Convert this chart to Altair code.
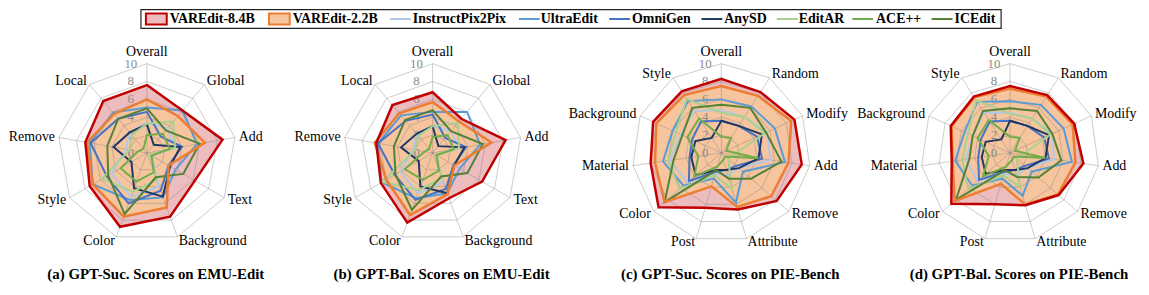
import altair as alt
import pandas as pd

# ---------------- data ----------------
MODELS = ["VAREdit-8.4B", "VAREdit-2.2B", "InstructPix2Pix", "UltraEdit", "OmniGen",
          "AnySD", "EditAR", "ACE++", "ICEdit"]
COLORS = ["#c00000", "#ed7d31", "#b4c7e7", "#5b9bd5", "#4472c4",
          "#203864", "#a9d18e", "#70ad47", "#548235"]
FILLS = {"VAREdit-8.4B": "#ecbcbf", "VAREdit-2.2B": "#f6c59e"}

AXES_EMU = ["Overall", "Global", "Add", "Text", "Background", "Color", "Style", "Remove", "Local"]
AXES_PIE = ["Overall", "Random", "Modify", "Add", "Remove", "Attribute", "Post", "Color",
            "Material", "Background", "Style"]

EMU_SUC = {
    "VAREdit-8.4B":    [7.6, 6.2, 8.6, 6.2, 7.6, 8.8, 7.4, 7.0, 7.6],
    "VAREdit-2.2B":    [6.0, 5.4, 6.6, 2.8, 6.5, 7.6, 7.0, 6.8, 5.7],
    "InstructPix2Pix": [3.4, 3.6, 3.2, 0.6, 4.0, 5.2, 4.6, 2.4, 3.0],
    "UltraEdit":       [5.1, 6.2, 5.7, 3.7, 5.3, 5.6, 7.0, 6.5, 5.9],
    "OmniGen":         [4.6, 2.4, 4.0, 2.8, 4.5, 6.0, 5.2, 6.4, 5.0],
    "AnySD":           [3.2, 1.2, 3.8, 3.0, 5.2, 4.2, 2.0, 3.8, 3.0],
    "EditAR":          [3.3, 4.6, 3.2, 0.4, 3.2, 4.6, 5.8, 2.0, 2.6],
    "ACE++":           [2.0, 2.8, 2.6, 0.6, 2.3, 3.4, 3.4, 1.0, 0.6],
    "ICEdit":          [5.0, 3.3, 6.0, 4.7, 2.9, 7.3, 5.0, 4.5, 5.0],
}
EMU_BAL = {
    "VAREdit-8.4B":    [6.8, 5.0, 8.3, 6.4, 5.4, 8.3, 6.7, 6.4, 7.0],
    "VAREdit-2.2B":    [5.7, 4.6, 6.7, 2.8, 4.9, 7.4, 6.0, 6.6, 5.8],
    "InstructPix2Pix": [3.0, 3.2, 3.0, 0.5, 3.5, 4.8, 4.2, 2.2, 2.8],
    "UltraEdit":       [4.6, 6.0, 5.4, 3.5, 4.8, 5.4, 6.6, 6.2, 5.5],
    "OmniGen":         [4.3, 2.2, 3.8, 2.7, 4.3, 5.6, 4.9, 6.2, 4.7],
    "AnySD":           [3.0, 1.0, 3.6, 2.8, 4.8, 4.0, 1.8, 3.6, 2.8],
    "EditAR":          [3.0, 4.4, 3.0, 0.4, 3.0, 4.4, 6.5, 2.0, 2.5],
    "ACE++":           [1.8, 2.6, 2.4, 0.5, 2.1, 3.2, 3.6, 0.9, 0.6],
    "ICEdit":          [4.8, 3.2, 5.7, 4.5, 2.8, 6.8, 4.8, 4.4, 4.8],
}
PIE_SUC = {
    "VAREdit-8.4B":    [8.3, 8.1, 9.0, 9.1, 8.2, 6.6, 6.4, 9.3, 8.0, 8.4, 8.2],
    "VAREdit-2.2B":    [7.5, 7.6, 8.6, 7.6, 7.4, 6.3, 3.9, 8.4, 7.5, 8.0, 7.7],
    "InstructPix2Pix": [4.8, 4.8, 5.6, 5.6, 2.6, 2.6, 2.4, 5.0, 5.8, 5.0, 5.6],
    "UltraEdit":       [6.0, 6.2, 6.6, 7.2, 3.2, 5.8, 3.0, 5.6, 6.6, 6.0, 6.9],
    "OmniGen":         [3.6, 3.6, 4.4, 4.6, 2.2, 2.0, 2.2, 4.8, 3.6, 3.6, 4.2],
    "AnySD":           [3.6, 3.6, 5.0, 4.2, 2.6, 2.0, 2.0, 3.8, 3.4, 3.2, 2.0],
    "EditAR":          [4.5, 4.8, 5.4, 1.4, 1.0, 4.2, 2.6, 6.2, 6.0, 5.6, 7.2],
    "ACE++":           [1.8, 2.0, 0.6, 4.2, 0.6, 0.8, 1.6, 4.0, 2.6, 4.2, 4.6],
    "ICEdit":          [5.4, 6.0, 5.5, 6.8, 4.4, 3.0, 2.0, 8.4, 5.4, 4.8, 6.0],
}
PIE_BAL = {
    "VAREdit-8.4B":    [7.5, 7.7, 7.9, 8.3, 7.2, 6.1, 6.0, 8.7, 6.6, 7.3, 7.5],
    "VAREdit-2.2B":    [7.2, 7.5, 7.7, 7.4, 7.1, 6.0, 3.6, 8.2, 6.5, 7.2, 7.4],
    "InstructPix2Pix": [4.5, 4.6, 5.2, 5.0, 2.6, 2.6, 2.4, 4.8, 5.0, 4.6, 5.4],
    "UltraEdit":       [5.8, 6.4, 6.6, 7.0, 3.2, 5.0, 3.0, 5.6, 6.2, 5.6, 6.8],
    "OmniGen":         [3.6, 3.6, 4.2, 4.4, 2.2, 2.0, 2.2, 4.6, 3.6, 3.6, 4.2],
    "AnySD":           [3.6, 3.6, 4.8, 4.0, 2.6, 2.0, 2.0, 3.6, 3.2, 3.0, 1.8],
    "EditAR":          [4.4, 4.6, 5.0, 1.4, 1.0, 4.0, 2.6, 6.2, 5.4, 5.2, 7.0],
    "ACE++":           [1.8, 2.0, 0.6, 4.0, 0.6, 0.8, 1.6, 4.0, 2.4, 4.0, 4.4],
    "ICEdit":          [5.0, 5.6, 5.2, 5.8, 4.2, 2.8, 2.0, 8.0, 4.6, 4.6, 5.6],
}
CAPTIONS = ["(a) GPT-Suc. Scores on EMU-Edit", "(b) GPT-Bal. Scores on EMU-Edit",
            "(c) GPT-Suc. Scores on PIE-Bench", "(d) GPT-Bal. Scores on PIE-Bench"]
TICKS = [0, 2, 4, 6, 8, 10]
RINGS = [2, 4, 6, 8, 10]

# ---------------- layout ----------------
PX = 9.0              # pixels per score unit
ROW_H = 259
CY = 125              # centre y inside a panel (px from top)
PANEL_W = [291, 291, 291, 268]
PANEL_CX = [139, 136, 136, 136]
LEG_W, LEG_H = 1141, 20
LEG_SYM_X = [138, 262, 384, 514, 605, 698, 774, 850, 930]
LEG_TXT_X = [162, 286, 407, 536, 628, 721, 796, 874, 953]
SERIF = "Liberation Serif"


def polar(r_expr="datum.v"):
    a = "2*PI*datum.i/datum.n"
    return {"px": f"({r_expr})*sin({a})", "py": f"({r_expr})*cos({a})", "s": f"sin({a})"}


def panel(axes, scores, caption, width, cx):
    n = len(axes)
    xs = alt.Scale(domain=[-cx / PX, (width - cx) / PX], nice=False, zero=False)
    ys = alt.Scale(domain=[-(ROW_H - CY) / PX, CY / PX], nice=False, zero=False)
    X = alt.X("px:Q", scale=xs, axis=None)
    Y = alt.Y("py:Q", scale=ys, axis=None)

    rows = [{"model": m, "i": i, "n": n, "v": v}
            for m in MODELS for i, v in enumerate(scores[m])]
    df = pd.DataFrame(rows)

    def series(m, **mk):
        return (alt.Chart(df).transform_filter(alt.datum.model == m)
                .transform_calculate(**polar())
                .mark_line(interpolate="linear-closed", **mk)
                .encode(x=X, y=Y, order="i:Q"))

    layers = []
    # filled areas
    for m in ["VAREdit-8.4B", "VAREdit-2.2B"]:
        layers.append(series(m, fill=FILLS[m], fillOpacity=1, strokeOpacity=0, strokeWidth=0))

    # grid rings
    ring_df = pd.DataFrame([{"ring": r, "i": i, "n": n, "v": r} for r in RINGS for i in range(n)])
    layers.append(alt.Chart(ring_df).transform_calculate(**polar())
                  .mark_line(interpolate="linear-closed", color="#7a7a7a", strokeOpacity=0.38, strokeWidth=1)
                  .encode(x=X, y=Y, detail="ring:N", order="i:Q"))
    # spokes
    spoke_df = pd.DataFrame([{"i": i, "n": n, "v": 10} for i in range(n)])
    layers.append(alt.Chart(spoke_df).transform_calculate(ox="0", oy="0", **polar())
                  .mark_rule(color="#7a7a7a", strokeOpacity=0.38, strokeWidth=1)
                  .encode(x=alt.X("ox:Q", scale=xs, axis=None), y=alt.Y("oy:Q", scale=ys, axis=None),
                          x2="px:Q", y2="py:Q"))
    # tick labels
    tick_df = pd.DataFrame({"v": TICKS, "t": [str(t) for t in TICKS]})
    layers.append(alt.Chart(tick_df).transform_calculate(px="-1.8", py="datum.v")
                  .mark_text(font=SERIF, fontSize=13, color="#8a8a8a", align="center", baseline="middle")
                  .encode(x=X, y=Y, text="t:N"))

    # model lines
    order = ["InstructPix2Pix", "UltraEdit", "OmniGen", "AnySD", "EditAR", "ACE++", "ICEdit",
             "VAREdit-2.2B", "VAREdit-8.4B"]
    for m in order:
        c = COLORS[MODELS.index(m)]
        w = 2.5 if m.startswith("VAREdit") else 2.0
        layers.append(series(m, color=c, strokeWidth=w))

    # category labels
    lab_df = pd.DataFrame([{"i": i, "n": n, "v": 10.45, "lab": a} for i, a in enumerate(axes)])
    base = alt.Chart(lab_df).transform_calculate(**polar())
    enc = dict(x=X, y=Y, text="lab:N")
    tk = dict(font=SERIF, fontSize=14, color="black")
    layers.append(base.transform_filter("datum.s > 0.05")
                  .mark_text(align="left", baseline="middle", **tk).encode(**enc))
    layers.append(base.transform_filter("datum.s < -0.05")
                  .mark_text(align="right", baseline="middle", **tk).encode(**enc))
    layers.append(base.transform_filter("abs(datum.s) <= 0.05")
                  .mark_text(align="center", baseline="bottom", dy=-1, **tk).encode(**enc))

    # caption
    cap_df = pd.DataFrame({"cap": [caption]})
    layers.append(alt.Chart(cap_df)
                  .mark_text(font=SERIF, fontSize=15, fontWeight="bold", color="black",
                             align="center", baseline="middle")
                  .encode(x=alt.value(cx + 9), y=alt.value(247), text="cap:N"))

    return alt.layer(*layers).properties(width=width, height=ROW_H)


# ---------------- legend ----------------
leg_df = pd.DataFrame({
    "model": MODELS, "col": COLORS,
    "sx": LEG_SYM_X, "sx2": [x + 21 for x in LEG_SYM_X], "tx": LEG_TXT_X,
    "fill": [FILLS.get(m, "none") for m in MODELS],
    "boxed": [m in FILLS for m in MODELS],
})
box = (alt.Chart(pd.DataFrame({"a": [0]}))
       .mark_rect(fill="white", fillOpacity=0, stroke="#222222", strokeWidth=1.2)
       .encode(x=alt.value(133), x2=alt.value(1000), y=alt.value(0.6), y2=alt.value(19.4)))
swatch = (alt.Chart(leg_df).transform_filter("datum.boxed")
          .mark_rect(strokeWidth=2)
          .encode(x=alt.X("sx:Q", scale=None), x2="sx2:Q", y=alt.value(4.5), y2=alt.value(15.5),
                  fill=alt.Color("fill:N", scale=None), stroke=alt.Color("col:N", scale=None)))
lines = (alt.Chart(leg_df).transform_filter("!datum.boxed")
         .mark_rule(strokeWidth=2)
         .encode(x=alt.X("sx:Q", scale=None), x2="sx2:Q", y=alt.value(10),
                 color=alt.Color("col:N", scale=None)))
texts = (alt.Chart(leg_df)
         .mark_text(font=SERIF, fontSize=14, fontWeight="bold", align="left", baseline="middle", color="black")
         .encode(x=alt.X("tx:Q", scale=None), y=alt.value(10.5), text="model:N"))
legend = alt.layer(box, swatch, lines, texts).properties(width=LEG_W, height=LEG_H)

panels = [
    panel(AXES_EMU, EMU_SUC, CAPTIONS[0], PANEL_W[0], PANEL_CX[0]),
    panel(AXES_EMU, EMU_BAL, CAPTIONS[1], PANEL_W[1], PANEL_CX[1]),
    panel(AXES_PIE, PIE_SUC, CAPTIONS[2], PANEL_W[2], PANEL_CX[2]),
    panel(AXES_PIE, PIE_BAL, CAPTIONS[3], PANEL_W[3], PANEL_CX[3]),
]
row = alt.hconcat(*panels, spacing=0, bounds="flush")
chart = (alt.vconcat(legend, row, spacing=0, bounds="flush")
         .properties(padding=0)
         .configure_view(stroke=None))

chart.save("out.html", embed_options={"renderer": "svg", "actions": False})
